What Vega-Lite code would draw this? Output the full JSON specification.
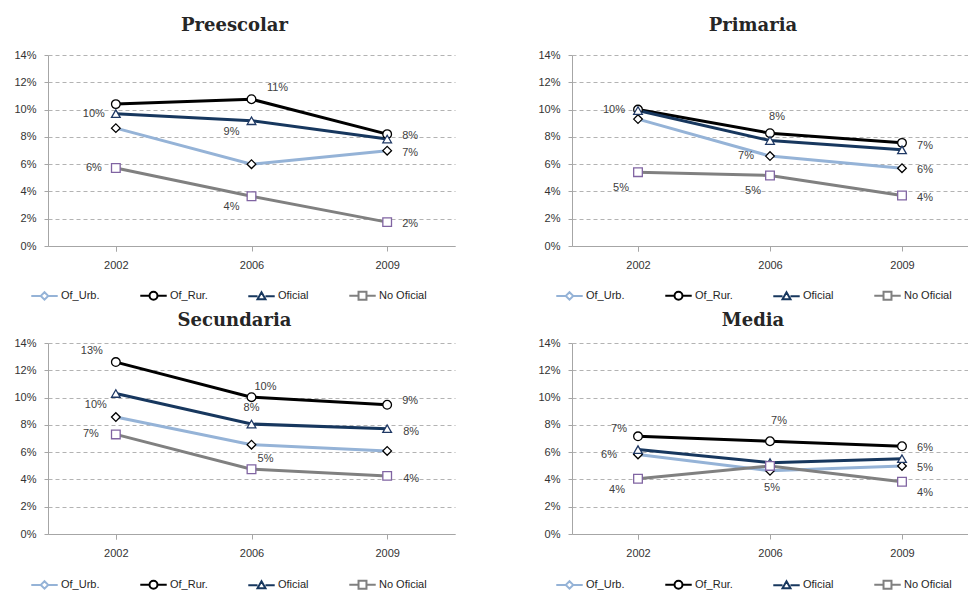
{
  "$schema": "https://vega.github.io/schema/vega-lite/v6.json",
  "padding": {"left": 13, "top": 17, "right": 0, "bottom": 0},
  "background": "white",
  "data": {"values": [
    {"panel": "Preescolar", "series": "Of_Urb.", "year": "2002", "value": 0.0864},
    {"panel": "Preescolar", "series": "Of_Urb.", "year": "2006", "value": 0.0600},
    {"panel": "Preescolar", "series": "Of_Urb.", "year": "2009", "value": 0.0699},
    {"panel": "Preescolar", "series": "Of_Rur.", "year": "2002", "value": 0.1040},
    {"panel": "Preescolar", "series": "Of_Rur.", "year": "2006", "value": 0.1076},
    {"panel": "Preescolar", "series": "Of_Rur.", "year": "2009", "value": 0.0820},
    {"panel": "Preescolar", "series": "Oficial", "year": "2002", "value": 0.0970},
    {"panel": "Preescolar", "series": "Oficial", "year": "2006", "value": 0.0918},
    {"panel": "Preescolar", "series": "Oficial", "year": "2009", "value": 0.0784},
    {"panel": "Preescolar", "series": "No Oficial", "year": "2002", "value": 0.0572},
    {"panel": "Preescolar", "series": "No Oficial", "year": "2006", "value": 0.0365},
    {"panel": "Preescolar", "series": "No Oficial", "year": "2009", "value": 0.0175},
    {"panel": "Primaria", "series": "Of_Urb.", "year": "2002", "value": 0.0930},
    {"panel": "Primaria", "series": "Of_Urb.", "year": "2006", "value": 0.0659},
    {"panel": "Primaria", "series": "Of_Urb.", "year": "2009", "value": 0.0570},
    {"panel": "Primaria", "series": "Of_Rur.", "year": "2002", "value": 0.1000},
    {"panel": "Primaria", "series": "Of_Rur.", "year": "2006", "value": 0.0827},
    {"panel": "Primaria", "series": "Of_Rur.", "year": "2009", "value": 0.0756},
    {"panel": "Primaria", "series": "Oficial", "year": "2002", "value": 0.0993},
    {"panel": "Primaria", "series": "Oficial", "year": "2006", "value": 0.0773},
    {"panel": "Primaria", "series": "Oficial", "year": "2009", "value": 0.0705},
    {"panel": "Primaria", "series": "No Oficial", "year": "2002", "value": 0.0541},
    {"panel": "Primaria", "series": "No Oficial", "year": "2006", "value": 0.0517},
    {"panel": "Primaria", "series": "No Oficial", "year": "2009", "value": 0.0370},
    {"panel": "Secundaria", "series": "Of_Urb.", "year": "2002", "value": 0.0857},
    {"panel": "Secundaria", "series": "Of_Urb.", "year": "2006", "value": 0.0655},
    {"panel": "Secundaria", "series": "Of_Urb.", "year": "2009", "value": 0.0609},
    {"panel": "Secundaria", "series": "Of_Rur.", "year": "2002", "value": 0.1260},
    {"panel": "Secundaria", "series": "Of_Rur.", "year": "2006", "value": 0.1003},
    {"panel": "Secundaria", "series": "Of_Rur.", "year": "2009", "value": 0.0947},
    {"panel": "Secundaria", "series": "Oficial", "year": "2002", "value": 0.1030},
    {"panel": "Secundaria", "series": "Oficial", "year": "2006", "value": 0.0806},
    {"panel": "Secundaria", "series": "Oficial", "year": "2009", "value": 0.0772},
    {"panel": "Secundaria", "series": "No Oficial", "year": "2002", "value": 0.0730},
    {"panel": "Secundaria", "series": "No Oficial", "year": "2006", "value": 0.0475},
    {"panel": "Secundaria", "series": "No Oficial", "year": "2009", "value": 0.0426},
    {"panel": "Media", "series": "Of_Urb.", "year": "2002", "value": 0.0583},
    {"panel": "Media", "series": "Of_Urb.", "year": "2006", "value": 0.0463},
    {"panel": "Media", "series": "Of_Urb.", "year": "2009", "value": 0.0499},
    {"panel": "Media", "series": "Of_Rur.", "year": "2002", "value": 0.0716},
    {"panel": "Media", "series": "Of_Rur.", "year": "2006", "value": 0.0680},
    {"panel": "Media", "series": "Of_Rur.", "year": "2009", "value": 0.0643},
    {"panel": "Media", "series": "Oficial", "year": "2002", "value": 0.0619},
    {"panel": "Media", "series": "Oficial", "year": "2006", "value": 0.0523},
    {"panel": "Media", "series": "Oficial", "year": "2009", "value": 0.0552},
    {"panel": "Media", "series": "No Oficial", "year": "2002", "value": 0.0405},
    {"panel": "Media", "series": "No Oficial", "year": "2006", "value": 0.0499},
    {"panel": "Media", "series": "No Oficial", "year": "2009", "value": 0.0383}
  ]},
  "columns": 2,
  "spacing": {"column": 82, "row": 8},
  "resolve": {"scale": {"color": "independent"}, "legend": {"color": "independent"}},
  "concat": [
    {
      "width": 407, "height": 191,
      "title": {"text": "Preescolar", "offset": 14},
      "transform": [{"filter": "datum.panel === 'Preescolar'"}],
      "encoding": {
        "x": {"field": "year", "type": "ordinal", "scale": {"paddingInner": 0, "paddingOuter": 0}},
        "y": {"field": "value", "type": "quantitative", "scale": {"domain": [0, 0.14], "nice": false}}
      },
      "layer": [
        {"mark": {"type": "line", "strokeWidth": 3},
         "encoding": {"color": {"field": "series", "type": "nominal",
           "scale": {"domain": ["Of_Urb.", "Of_Rur.", "Oficial", "No Oficial"], "range": ["#95b3d7", "#000000", "#17375e", "#808080"]},
           "legend": {"orient": "none", "legendX": -18, "legendY": 226, "encode": {"symbols": {"update": {"fill": {"value": "white"}, "shape": {"signal": "datum.value === 'Of_Urb.' ? 'M-1,0H-0.28M0.28,0H1M-0.28,0L0,-0.28L0.28,0L0,0.28Z' : datum.value === 'Of_Rur.' ? 'M-1,0H-0.3M0.3,0H1M-0.3,0A0.3,0.3,0,1,1,0.3,0A0.3,0.3,0,1,1,-0.3,0Z' : datum.value === 'Oficial' ? 'M-1,0H-0.3M0.3,0H1M-0.3,0.22L0,-0.3L0.3,0.22Z' : 'M-1,0H-0.3M0.3,0H1M-0.3,-0.3H0.3V0.3H-0.3Z'"}}}}}}}},
        {"mark": {"type": "point", "filled": true, "fill": "white", "size": 75, "strokeWidth": 1.3, "opacity": 1},
         "encoding": {
           "shape": {"field": "series", "type": "nominal", "scale": {"domain": ["Of_Urb.", "Of_Rur.", "Oficial", "No Oficial"], "range": ["diamond", "circle", "triangle-up", "square"]}, "legend": null},
           "stroke": {"field": "series", "type": "nominal", "scale": {"domain": ["Of_Urb.", "Of_Rur.", "Oficial", "No Oficial"], "range": ["#000000", "#000000", "#1f3864", "#8064a2"]}, "legend": null}}},
        {"transform": [{"filter": "indexof(['Oficial|2002','No Oficial|2002'], datum.series + '|' + datum.year) >= 0"}],
         "mark": {"type": "text", "dx": -22, "dy": 0}, "encoding": {"text": {"field": "value", "type": "quantitative", "format": ".0%"}}},
        {"transform": [{"filter": "indexof(['Of_Rur.|2009','Of_Urb.|2009','No Oficial|2009'], datum.series + '|' + datum.year) >= 0"}],
         "mark": {"type": "text", "dx": 23, "dy": 2}, "encoding": {"text": {"field": "value", "type": "quantitative", "format": ".0%"}}},
        {"transform": [{"filter": "indexof(['Of_Rur.|2006'], datum.series + '|' + datum.year) >= 0"}],
         "mark": {"type": "text", "dx": 26, "dy": -11}, "encoding": {"text": {"field": "value", "type": "quantitative", "format": ".0%"}}},
        {"transform": [{"filter": "indexof(['Oficial|2006','No Oficial|2006'], datum.series + '|' + datum.year) >= 0"}],
         "mark": {"type": "text", "dx": -20, "dy": 11}, "encoding": {"text": {"field": "value", "type": "quantitative", "format": ".0%"}}}
      ]
    },
    {
      "width": 396, "height": 191,
      "title": {"text": "Primaria", "offset": 14},
      "transform": [{"filter": "datum.panel === 'Primaria'"}],
      "encoding": {
        "x": {"field": "year", "type": "ordinal", "scale": {"paddingInner": 0, "paddingOuter": 0}},
        "y": {"field": "value", "type": "quantitative", "scale": {"domain": [0, 0.14], "nice": false}}
      },
      "layer": [
        {"mark": {"type": "line", "strokeWidth": 3},
         "encoding": {"color": {"field": "series", "type": "nominal",
           "scale": {"domain": ["Of_Urb.", "Of_Rur.", "Oficial", "No Oficial"], "range": ["#95b3d7", "#000000", "#17375e", "#808080"]},
           "legend": {"orient": "none", "legendX": -17, "legendY": 226, "encode": {"symbols": {"update": {"fill": {"value": "white"}, "shape": {"signal": "datum.value === 'Of_Urb.' ? 'M-1,0H-0.28M0.28,0H1M-0.28,0L0,-0.28L0.28,0L0,0.28Z' : datum.value === 'Of_Rur.' ? 'M-1,0H-0.3M0.3,0H1M-0.3,0A0.3,0.3,0,1,1,0.3,0A0.3,0.3,0,1,1,-0.3,0Z' : datum.value === 'Oficial' ? 'M-1,0H-0.3M0.3,0H1M-0.3,0.22L0,-0.3L0.3,0.22Z' : 'M-1,0H-0.3M0.3,0H1M-0.3,-0.3H0.3V0.3H-0.3Z'"}}}}}}}},
        {"mark": {"type": "point", "filled": true, "fill": "white", "size": 75, "strokeWidth": 1.3, "opacity": 1},
         "encoding": {
           "shape": {"field": "series", "type": "nominal", "scale": {"domain": ["Of_Urb.", "Of_Rur.", "Oficial", "No Oficial"], "range": ["diamond", "circle", "triangle-up", "square"]}, "legend": null},
           "stroke": {"field": "series", "type": "nominal", "scale": {"domain": ["Of_Urb.", "Of_Rur.", "Oficial", "No Oficial"], "range": ["#000000", "#000000", "#1f3864", "#8064a2"]}, "legend": null}}},
        {"transform": [{"filter": "indexof(['Of_Rur.|2002','Of_Urb.|2006'], datum.series + '|' + datum.year) >= 0"}],
         "mark": {"type": "text", "dx": -24, "dy": 0}, "encoding": {"text": {"field": "value", "type": "quantitative", "format": ".0%"}}},
        {"transform": [{"filter": "indexof(['Oficial|2009'], datum.series + '|' + datum.year) >= 0"}],
         "mark": {"type": "text", "dx": 23, "dy": -4}, "encoding": {"text": {"field": "value", "type": "quantitative", "format": ".0%"}}},
        {"transform": [{"filter": "indexof(['Of_Urb.|2009','No Oficial|2009'], datum.series + '|' + datum.year) >= 0"}],
         "mark": {"type": "text", "dx": 23, "dy": 2}, "encoding": {"text": {"field": "value", "type": "quantitative", "format": ".0%"}}},
        {"transform": [{"filter": "indexof(['Of_Rur.|2006'], datum.series + '|' + datum.year) >= 0"}],
         "mark": {"type": "text", "dx": 7, "dy": -16}, "encoding": {"text": {"field": "value", "type": "quantitative", "format": ".0%"}}},
        {"transform": [{"filter": "indexof(['No Oficial|2002','No Oficial|2006'], datum.series + '|' + datum.year) >= 0"}],
         "mark": {"type": "text", "dx": -17, "dy": 16}, "encoding": {"text": {"field": "value", "type": "quantitative", "format": ".0%"}}}
      ]
    },
    {
      "width": 407, "height": 191,
      "title": {"text": "Secundaria", "offset": 7},
      "transform": [{"filter": "datum.panel === 'Secundaria'"}],
      "encoding": {
        "x": {"field": "year", "type": "ordinal", "scale": {"paddingInner": 0, "paddingOuter": 0}},
        "y": {"field": "value", "type": "quantitative", "scale": {"domain": [0, 0.14], "nice": false}}
      },
      "layer": [
        {"mark": {"type": "line", "strokeWidth": 3},
         "encoding": {"color": {"field": "series", "type": "nominal",
           "scale": {"domain": ["Of_Urb.", "Of_Rur.", "Oficial", "No Oficial"], "range": ["#95b3d7", "#000000", "#17375e", "#808080"]},
           "legend": {"orient": "none", "legendX": -18, "legendY": 227, "encode": {"symbols": {"update": {"fill": {"value": "white"}, "shape": {"signal": "datum.value === 'Of_Urb.' ? 'M-1,0H-0.28M0.28,0H1M-0.28,0L0,-0.28L0.28,0L0,0.28Z' : datum.value === 'Of_Rur.' ? 'M-1,0H-0.3M0.3,0H1M-0.3,0A0.3,0.3,0,1,1,0.3,0A0.3,0.3,0,1,1,-0.3,0Z' : datum.value === 'Oficial' ? 'M-1,0H-0.3M0.3,0H1M-0.3,0.22L0,-0.3L0.3,0.22Z' : 'M-1,0H-0.3M0.3,0H1M-0.3,-0.3H0.3V0.3H-0.3Z'"}}}}}}}},
        {"mark": {"type": "point", "filled": true, "fill": "white", "size": 75, "strokeWidth": 1.3, "opacity": 1},
         "encoding": {
           "shape": {"field": "series", "type": "nominal", "scale": {"domain": ["Of_Urb.", "Of_Rur.", "Oficial", "No Oficial"], "range": ["diamond", "circle", "triangle-up", "square"]}, "legend": null},
           "stroke": {"field": "series", "type": "nominal", "scale": {"domain": ["Of_Urb.", "Of_Rur.", "Oficial", "No Oficial"], "range": ["#000000", "#000000", "#1f3864", "#8064a2"]}, "legend": null}}},
        {"transform": [{"filter": "indexof(['Of_Rur.|2002'], datum.series + '|' + datum.year) >= 0"}],
         "mark": {"type": "text", "dx": -24, "dy": -11}, "encoding": {"text": {"field": "value", "type": "quantitative", "format": ".0%"}}},
        {"transform": [{"filter": "indexof(['Oficial|2002'], datum.series + '|' + datum.year) >= 0"}],
         "mark": {"type": "text", "dx": -20, "dy": 12}, "encoding": {"text": {"field": "value", "type": "quantitative", "format": ".0%"}}},
        {"transform": [{"filter": "indexof(['No Oficial|2002'], datum.series + '|' + datum.year) >= 0"}],
         "mark": {"type": "text", "dx": -25, "dy": 0}, "encoding": {"text": {"field": "value", "type": "quantitative", "format": ".0%"}}},
        {"transform": [{"filter": "indexof(['Of_Rur.|2006','No Oficial|2006'], datum.series + '|' + datum.year) >= 0"}],
         "mark": {"type": "text", "dx": 14, "dy": -10}, "encoding": {"text": {"field": "value", "type": "quantitative", "format": ".0%"}}},
        {"transform": [{"filter": "indexof(['Oficial|2006'], datum.series + '|' + datum.year) >= 0"}],
         "mark": {"type": "text", "dx": 0, "dy": -16}, "encoding": {"text": {"field": "value", "type": "quantitative", "format": ".0%"}}},
        {"transform": [{"filter": "indexof(['Of_Rur.|2009'], datum.series + '|' + datum.year) >= 0"}],
         "mark": {"type": "text", "dx": 23, "dy": -4}, "encoding": {"text": {"field": "value", "type": "quantitative", "format": ".0%"}}},
        {"transform": [{"filter": "indexof(['Oficial|2009','No Oficial|2009'], datum.series + '|' + datum.year) >= 0"}],
         "mark": {"type": "text", "dx": 24, "dy": 3}, "encoding": {"text": {"field": "value", "type": "quantitative", "format": ".0%"}}}
      ]
    },
    {
      "width": 396, "height": 191,
      "title": {"text": "Media", "offset": 7},
      "transform": [{"filter": "datum.panel === 'Media'"}],
      "encoding": {
        "x": {"field": "year", "type": "ordinal", "scale": {"paddingInner": 0, "paddingOuter": 0}},
        "y": {"field": "value", "type": "quantitative", "scale": {"domain": [0, 0.14], "nice": false}}
      },
      "layer": [
        {"mark": {"type": "line", "strokeWidth": 3},
         "encoding": {"color": {"field": "series", "type": "nominal",
           "scale": {"domain": ["Of_Urb.", "Of_Rur.", "Oficial", "No Oficial"], "range": ["#95b3d7", "#000000", "#17375e", "#808080"]},
           "legend": {"orient": "none", "legendX": -17, "legendY": 227, "encode": {"symbols": {"update": {"fill": {"value": "white"}, "shape": {"signal": "datum.value === 'Of_Urb.' ? 'M-1,0H-0.28M0.28,0H1M-0.28,0L0,-0.28L0.28,0L0,0.28Z' : datum.value === 'Of_Rur.' ? 'M-1,0H-0.3M0.3,0H1M-0.3,0A0.3,0.3,0,1,1,0.3,0A0.3,0.3,0,1,1,-0.3,0Z' : datum.value === 'Oficial' ? 'M-1,0H-0.3M0.3,0H1M-0.3,0.22L0,-0.3L0.3,0.22Z' : 'M-1,0H-0.3M0.3,0H1M-0.3,-0.3H0.3V0.3H-0.3Z'"}}}}}}}},
        {"mark": {"type": "point", "filled": true, "fill": "white", "size": 75, "strokeWidth": 1.3, "opacity": 1},
         "encoding": {
           "shape": {"field": "series", "type": "nominal", "scale": {"domain": ["Of_Urb.", "Of_Rur.", "Oficial", "No Oficial"], "range": ["diamond", "circle", "triangle-up", "square"]}, "legend": null},
           "stroke": {"field": "series", "type": "nominal", "scale": {"domain": ["Of_Urb.", "Of_Rur.", "Oficial", "No Oficial"], "range": ["#000000", "#000000", "#1f3864", "#8064a2"]}, "legend": null}}},
        {"transform": [{"filter": "indexof(['Of_Rur.|2002'], datum.series + '|' + datum.year) >= 0"}],
         "mark": {"type": "text", "dx": -19, "dy": -7}, "encoding": {"text": {"field": "value", "type": "quantitative", "format": ".0%"}}},
        {"transform": [{"filter": "indexof(['Oficial|2002'], datum.series + '|' + datum.year) >= 0"}],
         "mark": {"type": "text", "dx": -29, "dy": 5}, "encoding": {"text": {"field": "value", "type": "quantitative", "format": ".0%"}}},
        {"transform": [{"filter": "indexof(['No Oficial|2002'], datum.series + '|' + datum.year) >= 0"}],
         "mark": {"type": "text", "dx": -21, "dy": 11}, "encoding": {"text": {"field": "value", "type": "quantitative", "format": ".0%"}}},
        {"transform": [{"filter": "indexof(['Of_Rur.|2006'], datum.series + '|' + datum.year) >= 0"}],
         "mark": {"type": "text", "dx": 9, "dy": -20}, "encoding": {"text": {"field": "value", "type": "quantitative", "format": ".0%"}}},
        {"transform": [{"filter": "indexof(['Of_Urb.|2006'], datum.series + '|' + datum.year) >= 0"}],
         "mark": {"type": "text", "dx": 2, "dy": 17}, "encoding": {"text": {"field": "value", "type": "quantitative", "format": ".0%"}}},
        {"transform": [{"filter": "indexof(['Of_Rur.|2009','Of_Urb.|2009'], datum.series + '|' + datum.year) >= 0"}],
         "mark": {"type": "text", "dx": 23, "dy": 2}, "encoding": {"text": {"field": "value", "type": "quantitative", "format": ".0%"}}},
        {"transform": [{"filter": "indexof(['No Oficial|2009'], datum.series + '|' + datum.year) >= 0"}],
         "mark": {"type": "text", "dx": 23, "dy": 11}, "encoding": {"text": {"field": "value", "type": "quantitative", "format": ".0%"}}}
      ]
    }
  ],
  "config": {
    "view": {"stroke": null},
    "font": "Liberation Sans",
    "title": {"font": "DejaVu Serif", "fontSize": 18, "fontWeight": "bold", "color": "#262626", "anchor": "middle", "frame": "bounds"},
    "axis": {"labelFont": "Liberation Sans", "labelFontSize": 11, "labelColor": "#333333", "domainColor": "#a6a6a6", "tickColor": "#a6a6a6", "title": null},
    "axisX": {"labelAngle": 0, "tickBand": "extent", "tickSize": 5, "labelPadding": 8, "grid": false},
    "axisY": {"format": ".0%", "values": [0, 0.02, 0.04, 0.06, 0.08, 0.1, 0.12, 0.14], "grid": true, "gridDash": [4, 3], "gridColor": "#b3b3b3", "tickSize": 4, "labelPadding": 8},
    "legend": {"direction": "horizontal", "title": null, "columns": 4, "symbolSize": 700, "symbolStrokeWidth": 2, "labelFont": "Liberation Sans", "labelFontSize": 11, "labelColor": "#262626", "columnPadding": 36, "labelOffset": 2},
    "text": {"font": "Liberation Sans", "fontSize": 11, "color": "#404040", "fill": "#404040", "align": "center", "baseline": "middle"}
  }
}
